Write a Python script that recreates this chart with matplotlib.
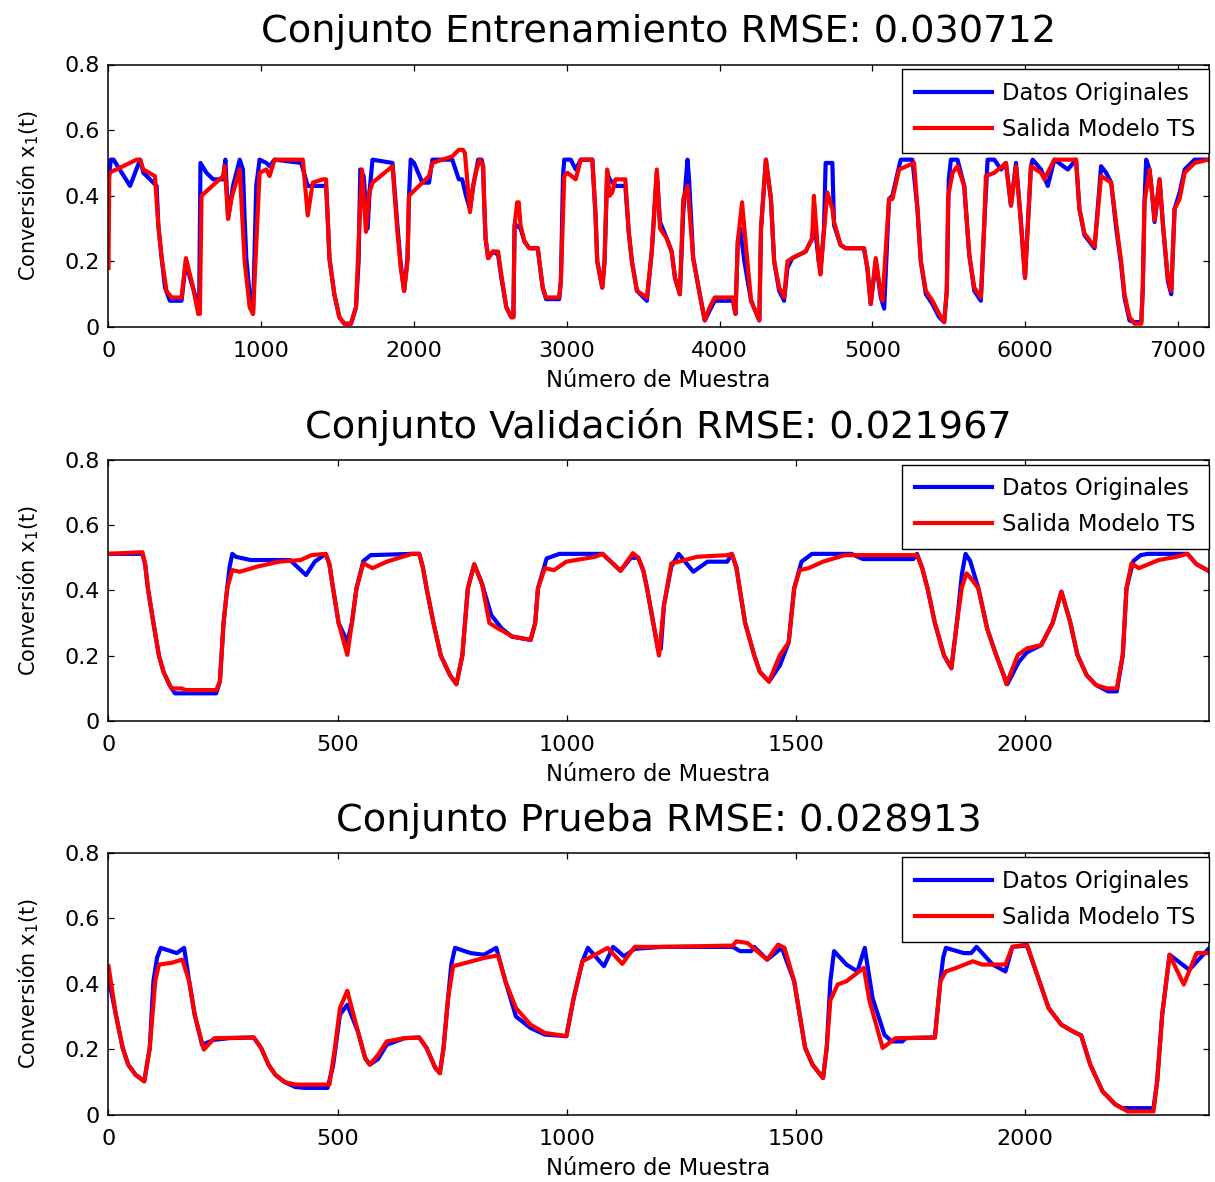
import matplotlib
matplotlib.use("Agg")
import matplotlib.pyplot as plt
from matplotlib.lines import Line2D

# ---------------- data: sample index / conversion value knots ----------------
# Training set
train_orig_n = [0, 15, 33, 141, 207, 228, 272, 315, 326, 348, 370, 402, 478, 507, 533, 565, 593, 602,
                641, 685, 750, 765, 783, 815, 859, 880, 891, 902, 924, 946, 967, 989, 1033, 1054, 1087,
                1261, 1304, 1424, 1435, 1446, 1478, 1511, 1543, 1587, 1620, 1637, 1648, 1670, 1696, 1710,
                1728, 1859, 1891, 1913, 1935, 1957, 1967, 1978, 2000, 2054, 2098, 2120, 2250, 2293, 2315,
                2340, 2366, 2387, 2420, 2442, 2452, 2459, 2468, 2485, 2517, 2550, 2571, 2604, 2636, 2650,
                2658, 2670, 2697, 2723, 2755, 2810, 2820, 2842, 2864, 2950, 2961, 2975, 2983, 3026, 3058,
                3091, 3167, 3188, 3199, 3232, 3247, 3264, 3280, 3318, 3383, 3405, 3426, 3459, 3524, 3556,
                3589, 3610, 3654, 3686, 3708, 3740, 3762, 3790, 3800, 3827, 3870, 3903, 3935, 3968, 4087,
                4104, 4119, 4135, 4162, 4206, 4260, 4271, 4303, 4336, 4357, 4390, 4422, 4444, 4476, 4563,
                4606, 4617, 4649, 4660, 4683, 4694, 4738, 4749, 4792, 4825, 4945, 4967, 4989, 5022, 5055,
                5077, 5109, 5131, 5175, 5186, 5262, 5295, 5317, 5350, 5393, 5437, 5470, 5487, 5500, 5514,
                5557, 5601, 5634, 5667, 5710, 5732, 5754, 5798, 5842, 5874, 5907, 5940, 5968, 5999, 6038,
                6049, 6104, 6148, 6191, 6279, 6333, 6355, 6388, 6454, 6497, 6530, 6563, 6596, 6628, 6650,
                6683, 6716, 6760, 6770, 6781, 6792, 6814, 6830, 6847, 6880, 6902, 6934, 6956, 6978, 7011,
                7044, 7109, 7200]
train_orig_v = [0.44, 0.51, 0.51, 0.43, 0.51, 0.47, 0.45, 0.43, 0.31, 0.21, 0.12, 0.08, 0.08, 0.20, 0.15, 0.10, 0.04, 0.50,
                0.47, 0.45, 0.45, 0.51, 0.33, 0.43, 0.51, 0.48, 0.33, 0.21, 0.10, 0.04, 0.43, 0.51, 0.50, 0.49, 0.51,
                0.50, 0.43, 0.43, 0.33, 0.21, 0.10, 0.03, 0.01, 0.01, 0.06, 0.20, 0.48, 0.46, 0.30, 0.42,
                0.51, 0.50, 0.31, 0.19, 0.11, 0.21, 0.40, 0.51, 0.50, 0.44, 0.44, 0.51, 0.51, 0.45, 0.45,
                0.40, 0.36, 0.43, 0.51, 0.51, 0.49, 0.38, 0.27, 0.21, 0.23, 0.22, 0.15, 0.06, 0.03, 0.03,
                0.31, 0.31, 0.30, 0.26, 0.24, 0.24, 0.20, 0.12, 0.085, 0.085, 0.14, 0.46, 0.51, 0.51, 0.48,
                0.51, 0.51, 0.34, 0.20, 0.12, 0.20, 0.47, 0.45, 0.43, 0.43, 0.29, 0.20, 0.11, 0.08, 0.23,
                0.47, 0.32, 0.27, 0.23, 0.15, 0.10, 0.35, 0.51, 0.45, 0.21, 0.10, 0.02, 0.05, 0.08, 0.08,
                0.04, 0.26, 0.30, 0.20, 0.08, 0.02, 0.30, 0.51, 0.39, 0.20, 0.11, 0.08, 0.18, 0.21, 0.23,
                0.27, 0.33, 0.20, 0.17, 0.30, 0.50, 0.50, 0.31, 0.25, 0.24, 0.24, 0.18, 0.07, 0.20, 0.09,
                0.056, 0.39, 0.40, 0.49, 0.51, 0.51, 0.36, 0.20, 0.10, 0.07, 0.03, 0.015, 0.11, 0.45, 0.51,
                0.51, 0.43, 0.22, 0.11, 0.08, 0.31, 0.51, 0.51, 0.48, 0.50, 0.37, 0.50, 0.345, 0.15, 0.49,
                0.51, 0.48, 0.43, 0.51, 0.48, 0.51, 0.36, 0.28, 0.24, 0.49, 0.47, 0.44, 0.30, 0.19, 0.09,
                0.02, 0.015, 0.015, 0.12, 0.38, 0.51, 0.48, 0.41, 0.32, 0.45, 0.31, 0.14, 0.10, 0.36, 0.41,
                0.48, 0.51, 0.51]

train_model_n = [0, 5, 185, 207, 228, 304, 326, 348, 380, 413, 478, 507, 528, 554, 587, 598, 609, 750, 761,
                 783, 804, 859, 891, 924, 946, 967, 989, 1033, 1054, 1087, 1272, 1304, 1337, 1402, 1424, 1435,
                 1446, 1478, 1511, 1543, 1587, 1620, 1641, 1659, 1685, 1707, 1728, 1859, 1891, 1913, 1935,
                 1957, 1967, 2098, 2120, 2250, 2293, 2320, 2333, 2366, 2387, 2409, 2431, 2452, 2459, 2468,
                 2485, 2517, 2550, 2571, 2604, 2636, 2650, 2658, 2675, 2685, 2697, 2723, 2755, 2810, 2820,
                 2842, 2864, 2950, 2961, 2983, 3004, 3058, 3091, 3167, 3188, 3199, 3232, 3247, 3264, 3280,
                 3297, 3318, 3383, 3405, 3426, 3459, 3524, 3556, 3589, 3610, 3654, 3686, 3708, 3740, 3762,
                 3790, 3827, 3870, 3903, 3935, 3968, 4087, 4104, 4119, 4147, 4162, 4206, 4260, 4271, 4303,
                 4336, 4357, 4390, 4422, 4444, 4476, 4563, 4606, 4617, 4649, 4660, 4683, 4705, 4738, 4749,
                 4792, 4825, 4945, 4967, 4989, 5022, 5055, 5066, 5109, 5131, 5175, 5273, 5295, 5317, 5350,
                 5393, 5437, 5470, 5487, 5496, 5525, 5557, 5601, 5634, 5667, 5710, 5732, 5743, 5798, 5874,
                 5907, 5940, 5968, 5999, 6038, 6104, 6126, 6191, 6333, 6355, 6388, 6454, 6497, 6563, 6596,
                 6628, 6650, 6683, 6716, 6760, 6770, 6781, 6814, 6830, 6847, 6880, 6902, 6934, 6956, 6978,
                 7011, 7044, 7109, 7200]
train_model_v = [0.18, 0.47, 0.51, 0.51, 0.48, 0.46, 0.31, 0.21, 0.11, 0.09, 0.09, 0.21, 0.17, 0.12, 0.04, 0.04, 0.40, 0.46, 0.49,
                 0.33, 0.39, 0.48, 0.20, 0.06, 0.04, 0.25, 0.47, 0.48, 0.46, 0.51, 0.51, 0.34, 0.44, 0.45, 0.45, 0.33,
                 0.21, 0.10, 0.03, 0.01, 0.01, 0.06, 0.30, 0.48, 0.29, 0.41, 0.44, 0.49, 0.29, 0.18, 0.11,
                 0.20, 0.40, 0.46, 0.50, 0.52, 0.54, 0.54, 0.53, 0.35, 0.43, 0.48, 0.51, 0.49, 0.38, 0.27,
                 0.21, 0.23, 0.23, 0.16, 0.06, 0.03, 0.03, 0.31, 0.38, 0.38, 0.31, 0.26, 0.24, 0.24, 0.20,
                 0.12, 0.09, 0.09, 0.14, 0.46, 0.47, 0.45, 0.51, 0.51, 0.34, 0.20, 0.12, 0.20, 0.48, 0.40,
                 0.41, 0.45, 0.45, 0.29, 0.20, 0.11, 0.09, 0.23, 0.48, 0.30, 0.27, 0.23, 0.15, 0.10, 0.39,
                 0.43, 0.21, 0.10, 0.02, 0.06, 0.09, 0.09, 0.04, 0.26, 0.38, 0.30, 0.08, 0.02, 0.30, 0.51,
                 0.39, 0.20, 0.12, 0.09, 0.20, 0.21, 0.23, 0.27, 0.40, 0.20, 0.16, 0.29, 0.41, 0.36, 0.32,
                 0.25, 0.24, 0.24, 0.18, 0.07, 0.21, 0.10, 0.08, 0.39, 0.39, 0.48, 0.50, 0.36, 0.20, 0.11,
                 0.08, 0.04, 0.015, 0.11, 0.40, 0.47, 0.49, 0.43, 0.22, 0.12, 0.09, 0.31, 0.46, 0.47, 0.50,
                 0.37, 0.49, 0.345, 0.15, 0.49, 0.47, 0.45, 0.51, 0.51, 0.36, 0.285, 0.245, 0.46, 0.44, 0.315,
                 0.20, 0.10, 0.03, 0.01, 0.01, 0.12, 0.38, 0.48, 0.41, 0.325, 0.45, 0.31, 0.15, 0.11, 0.36,
                 0.39, 0.47, 0.50, 0.51]

# Validation set
val_orig_n = [0, 74, 80, 86, 98, 110, 120, 133, 145, 235, 243, 251, 259, 264, 270, 278, 310, 396, 431, 450, 474,
              482, 490, 502, 521, 531, 541, 556, 572, 662, 678, 686, 694, 709, 725, 745, 759, 772, 784, 798, 815,
              835, 858, 880, 921, 931, 937, 956, 984, 1078, 1117, 1140, 1156, 1167, 1175, 1199, 1205, 1212, 1228,
              1244, 1276, 1307, 1350, 1360, 1370, 1377, 1389, 1409, 1421, 1441, 1465, 1484, 1496, 1512, 1535,
              1621, 1646, 1756, 1764, 1775, 1787, 1803, 1823, 1839, 1851, 1862, 1870, 1880, 1898, 1917, 1937,
              1953, 1961, 1986, 2004, 2035, 2060, 2079, 2098, 2114, 2134, 2154, 2181, 2200, 2213, 2221, 2236,
              2252, 2268, 2354, 2374, 2400]
val_orig_v = [0.512, 0.512, 0.48, 0.406, 0.30, 0.20, 0.15, 0.11, 0.084, 0.084, 0.12, 0.30, 0.406, 0.47, 0.512, 0.503, 0.493, 0.493, 0.447, 0.488, 0.512,
              0.48, 0.406, 0.30, 0.242, 0.30, 0.406, 0.49, 0.508, 0.512, 0.512, 0.47, 0.406, 0.30, 0.20, 0.14, 0.112, 0.20, 0.406, 0.48, 0.42,
              0.324, 0.283, 0.258, 0.248, 0.30, 0.406, 0.498, 0.512, 0.512, 0.46, 0.50, 0.50, 0.46, 0.406, 0.22, 0.22, 0.355, 0.473,
              0.512, 0.457, 0.488, 0.488, 0.512, 0.47, 0.406, 0.30, 0.20, 0.15, 0.12, 0.17, 0.24, 0.406, 0.488, 0.512,
              0.512, 0.496, 0.496, 0.512, 0.47, 0.406, 0.30, 0.20, 0.161, 0.30, 0.45, 0.512, 0.49, 0.406, 0.283, 0.20,
              0.14, 0.112, 0.18, 0.21, 0.232, 0.30, 0.396, 0.304, 0.202, 0.14, 0.11, 0.09, 0.09, 0.202, 0.406, 0.49,
              0.508, 0.512, 0.512, 0.48, 0.46]

val_model_n = [0, 74, 80, 86, 98, 110, 120, 137, 160, 168, 235, 243, 251, 259, 270, 286, 325, 372, 419, 443, 474,
               482, 490, 502, 521, 531, 541, 556, 576, 607, 662, 678, 686, 694, 709, 725, 745, 759, 772, 784, 798,
               815, 831, 850, 882, 921, 931, 937, 952, 972, 999, 1062, 1078, 1117, 1144, 1156, 1167, 1175, 1201,
               1212, 1228, 1244, 1284, 1350, 1360, 1370, 1377, 1389, 1409, 1421, 1441, 1465, 1484, 1496, 1508,
               1527, 1559, 1606, 1764, 1775, 1787, 1803, 1823, 1839, 1851, 1862, 1872, 1880, 1898, 1917, 1937,
               1953, 1959, 1984, 2004, 2035, 2060, 2079, 2098, 2114, 2134, 2154, 2178, 2200, 2213, 2221, 2232,
               2248, 2291, 2330, 2354, 2374, 2400]
val_model_v = [0.512, 0.517, 0.48, 0.406, 0.30, 0.20, 0.15, 0.099, 0.099, 0.094, 0.094, 0.12, 0.30, 0.406, 0.462, 0.457, 0.473, 0.488, 0.493, 0.508, 0.512,
               0.48, 0.406, 0.30, 0.202, 0.30, 0.406, 0.483, 0.468, 0.488, 0.512, 0.512, 0.47, 0.406, 0.30, 0.20, 0.14, 0.112, 0.20, 0.406, 0.48,
               0.42, 0.30, 0.283, 0.258, 0.248, 0.30, 0.406, 0.468, 0.462, 0.488, 0.503, 0.512, 0.46, 0.514, 0.50, 0.46, 0.406, 0.20,
               0.355, 0.483, 0.488, 0.503, 0.508, 0.512, 0.47, 0.406, 0.30, 0.20, 0.15, 0.12, 0.202, 0.24, 0.406, 0.462,
               0.468, 0.488, 0.508, 0.508, 0.47, 0.406, 0.30, 0.20, 0.161, 0.30, 0.41, 0.452, 0.44, 0.406, 0.283, 0.20,
               0.14, 0.112, 0.202, 0.222, 0.232, 0.30, 0.396, 0.304, 0.202, 0.14, 0.11, 0.099, 0.099, 0.202, 0.406, 0.483,
               0.468, 0.493, 0.503, 0.512, 0.48, 0.46]

# Test set
test_orig_n = [0, 16, 31, 43, 59, 78, 90, 98, 106, 114, 149, 165, 176, 188, 204, 231, 263, 317, 333, 349, 364, 384,
               407, 427, 478, 490, 505, 521, 544, 560, 570, 588, 607, 646, 678, 694, 713, 723, 731, 741, 748, 756,
               790, 819, 846, 866, 889, 921, 952, 999, 1015, 1034, 1046, 1081, 1101, 1125, 1148, 1209, 1362,
               1378, 1402, 1409, 1437, 1469, 1496, 1508, 1520, 1536, 1559, 1567, 1575, 1583, 1610, 1634,
               1650, 1667, 1693, 1709, 1732, 1740, 1803, 1815, 1821, 1827, 1866, 1882, 1894, 1929, 1957, 1972,
               2004, 2031, 2051, 2079, 2110, 2122, 2142, 2169, 2197, 2212, 2280, 2288, 2299, 2315, 2358, 2400]
test_orig_v = [0.418, 0.306, 0.204, 0.153, 0.122, 0.102, 0.204, 0.408, 0.48, 0.510, 0.494, 0.510, 0.408, 0.306, 0.214, 0.229, 0.234, 0.236, 0.204, 0.153, 0.122, 0.10,
               0.085, 0.082, 0.082, 0.15, 0.306, 0.336, 0.255, 0.173, 0.153, 0.17, 0.214, 0.234, 0.236, 0.204, 0.143, 0.127, 0.204, 0.357, 0.46, 0.510,
               0.494, 0.489, 0.510, 0.408, 0.30, 0.265, 0.245, 0.240, 0.357, 0.469, 0.510, 0.454, 0.513, 0.484, 0.507, 0.513, 0.513,
               0.50, 0.50, 0.513, 0.474, 0.51, 0.408, 0.306, 0.204, 0.153, 0.112, 0.204, 0.408, 0.50, 0.459, 0.438,
               0.51, 0.357, 0.244, 0.224, 0.224, 0.234, 0.236, 0.408, 0.48, 0.51, 0.494, 0.494, 0.513, 0.459, 0.438, 0.513,
               0.517, 0.408, 0.326, 0.275, 0.250, 0.243, 0.153, 0.071, 0.031, 0.020, 0.020, 0.102, 0.306, 0.489, 0.443, 0.507]

test_model_n = [0, 16, 31, 43, 59, 78, 90, 102, 110, 137, 161, 176, 188, 208, 231, 317, 333, 349, 364, 384, 407,
                482, 494, 505, 521, 544, 560, 570, 588, 607, 646, 678, 694, 713, 723, 731, 741, 752, 779, 819,
                850, 866, 889, 921, 952, 999, 1015, 1034, 1062, 1089, 1121, 1148, 1209, 1362, 1370, 1394,
                1437, 1461, 1475, 1496, 1508, 1520, 1536, 1559, 1567, 1575, 1591, 1610, 1648, 1660, 1689,
                1717, 1803, 1815, 1827, 1850, 1886, 1906, 1957, 1972, 2004, 2031, 2051, 2079, 2110, 2122,
                2142, 2169, 2197, 2224, 2280, 2288, 2299, 2315, 2346, 2374, 2400]
test_model_v = [0.454, 0.306, 0.204, 0.153, 0.122, 0.102, 0.204, 0.408, 0.459, 0.464, 0.474, 0.408, 0.306, 0.199, 0.234, 0.236, 0.204, 0.153, 0.122, 0.10, 0.092,
                0.092, 0.204, 0.326, 0.379, 0.255, 0.173, 0.153, 0.183, 0.224, 0.234, 0.236, 0.204, 0.143, 0.127, 0.204, 0.357, 0.454, 0.464, 0.479,
                0.487, 0.408, 0.326, 0.275, 0.250, 0.240, 0.357, 0.469, 0.489, 0.510, 0.461, 0.513, 0.513, 0.517, 0.530, 0.525,
                0.474, 0.520, 0.51, 0.408, 0.306, 0.204, 0.153, 0.112, 0.204, 0.35, 0.398, 0.408, 0.449, 0.35, 0.204,
                0.234, 0.236, 0.408, 0.438, 0.449, 0.469, 0.459, 0.459, 0.513, 0.520, 0.408, 0.326, 0.275, 0.250, 0.243,
                0.153, 0.071, 0.031, 0.010, 0.010, 0.102, 0.306, 0.489, 0.398, 0.494, 0.494]

titles = ["Conjunto Entrenamiento RMSE: 0.030712",
          "Conjunto Validación RMSE: 0.021967",
          "Conjunto Prueba RMSE: 0.028913"]
legend_labels = ["Datos Originales", "Salida Modelo TS"]
x_label = "Número de Muestra"
y_label = "Conversión x$_1$(t)"
y_ticks = [0, 0.2, 0.4, 0.6, 0.8]
y_tick_labels = ["0", "0.2", "0.4", "0.6", "0.8"]
x_limits = [7200, 2400, 2400]
x_ticks = [list(range(0, 7001, 1000)), list(range(0, 2001, 500)), list(range(0, 2001, 500))]

series = [
    (train_orig_n, train_orig_v, train_model_n, train_model_v),
    (val_orig_n, val_orig_v, val_model_n, val_model_v),
    (test_orig_n, test_orig_v, test_model_n, test_model_v),
]

# ---------------- figure ----------------
W, H = 1215, 1182
fig = plt.figure(figsize=(W / 100, H / 100), dpi=100)
plt.rcParams["font.family"] = ["DejaVu Sans"]

# axes boxes in pixels (left, top, right, bottom)
boxes = [(108.5, 64.5, 1208.5, 327.0),
         (108.5, 460.0, 1208.5, 720.7),
         (108.5, 853.0, 1208.5, 1114.7)]

BLUE = (0, 0, 1)
RED = (1, 0, 0)
LW = 3.0
FS = 16

for i, (l, t, r, b) in enumerate(boxes):
    ax = fig.add_axes([l / W, 1 - b / H, (r - l) / W, (b - t) / H])
    on, ov, mn, mv = series[i]
    ax.plot(on, ov, color=BLUE, lw=LW, solid_joinstyle="round")
    ax.plot(mn, mv, color=RED, lw=LW, solid_joinstyle="round")
    ax.set_xlim(0, x_limits[i])
    ax.set_ylim(0, 0.8)
    ax.set_xticks(x_ticks[i])
    ax.set_xticklabels([str(v) for v in x_ticks[i]])
    ax.set_yticks(y_ticks)
    ax.set_yticklabels(y_tick_labels)
    ax.tick_params(direction="in", length=4, width=0.9, labelsize=FS,
                   top=True, right=True, colors="black")
    ax.tick_params(axis="x", pad=10)
    ax.tick_params(axis="y", pad=6)
    for sp in ax.spines.values():
        sp.set_linewidth(1.1)
        sp.set_color("black")
    ax.set_xlabel(x_label, fontsize=16.3, labelpad=6)
    ax.set_ylabel(y_label, fontsize=15, labelpad=17)
    ax.set_title(titles[i], fontsize=27.5, pad=16)

    handles = [Line2D([], [], color=BLUE, lw=LW), Line2D([], [], color=RED, lw=LW)]
    leg = ax.legend(handles, legend_labels, loc="upper right",
                    bbox_to_anchor=(1.0, 1.0 - 4.5 / (b - t)), borderaxespad=0,
                    fontsize=16.3, handlelength=3.4, handletextpad=0.45,
                    labelspacing=0.56, borderpad=0.57, fancybox=False,
                    framealpha=1, edgecolor="black")
    leg.get_frame().set_linewidth(1.0)

fig.savefig("out.png", dpi=100)
